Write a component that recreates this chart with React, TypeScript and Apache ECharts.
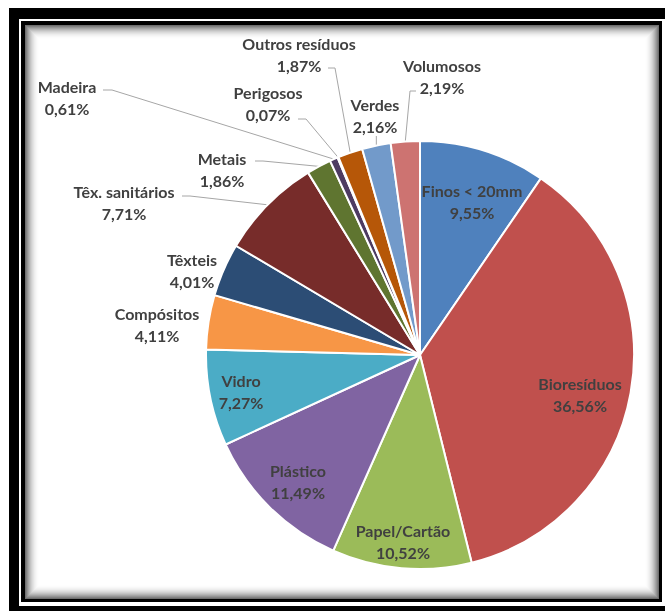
import React, { useEffect, useRef } from "react";
import * as echarts from "echarts";

const categories = [
  "Finos < 20mm",
  "Bioresíduos",
  "Papel/Cartão",
  "Plástico",
  "Vidro",
  "Compósitos",
  "Têxteis",
  "Têx. sanitários",
  "Metais",
  "Madeira",
  "Perigosos",
  "Outros resíduos",
  "Verdes",
  "Volumosos",
];
const values = [9.55, 36.56, 10.52, 11.49, 7.27, 4.11, 4.01, 7.71, 1.86, 0.61, 0.07, 1.87, 2.16, 2.19];
const colors = [
  "#4F81BD",
  "#C0504D",
  "#9BBB59",
  "#8064A2",
  "#4BACC6",
  "#F79646",
  "#2C4D75",
  "#772C2A",
  "#5F7530",
  "#4D3B62",
  "#276A7C",
  "#B65708",
  "#729ACA",
  "#CD7371",
];
// label placement: "inside" / "outside"
const labelKind = ["inside", "inside", "inside", "inside", "inside", "outside", "outside", "outside", "outside", "outside", "outside", "outside", "outside", "outside"];
// label block centres (layout only)
const labelCenters: number[][] = [
  [472, 201],
  [580, 394],
  [403, 541],
  [298, 481],
  [241, 391],
  [157, 324],
  [192, 270],
  [124, 202],
  [222, 169],
  [67, 97],
  [268, 103],
  [299, 54],
  [375, 115],
  [442, 76],
];
// leader-line bend/end points (layout only); null = no leader line
const leaderPts: (number[][] | null)[] = [
  null,
  null,
  null,
  null,
  null,
  null,
  null,
  [[190, 196], [182, 196]],
  [[263, 161], [255, 161]],
  [[112, 90], [103, 90]],
  [[306, 119], [298, 119]],
  [[335, 68], [328, 68]],
  [[-1, 136]],
  [[410, 91], [416, 91]],
];

function frameGraphics() {
  const els: any[] = [
    { type: "rect", z: 0, silent: true, shape: { x: 9, y: 8, width: 700, height: 700 }, style: { fill: "#000" } },
    { type: "rect", z: 0, silent: true, shape: { x: 19, y: 19, width: 700, height: 587 }, style: { fill: "#fff" } },
    { type: "rect", z: 0, silent: true, shape: { x: 21, y: 21, width: 641, height: 581 }, style: { fill: "#000" } },
  ];
  const steps = 14;
  for (let i = 0; i <= steps; i++) {
    const t = 1 - i / steps;
    const g = Math.round(255 - (255 - 110) * t * t);
    els.push({
      type: "rect",
      z: 0,
      silent: true,
      shape: { x: 25 + i, y: 25 + i, width: 634 - 2 * i, height: 574 - 2 * i },
      style: { fill: `rgb(${g},${g},${g})` },
    });
  }
  return els;
}

export default function App() {
  const ref = useRef<HTMLDivElement>(null);
  useEffect(() => {
    if (!ref.current) return;
    const chart = echarts.init(ref.current, undefined, { renderer: "svg" });
    const data = categories.map((name, i) => ({
      name,
      value: values[i],
      itemStyle: { color: colors[i] },
      label: { position: labelKind[i] },
      labelLine: { show: leaderPts[i] !== null },
    }));
    chart.setOption({
      animation: false,
      graphic: frameGraphics(),
      series: [
        {
          type: "pie",
          z: 5,
          center: [420, 355],
          radius: 214,
          startAngle: 90,
          clockwise: true,
          avoidLabelOverlap: false,
          itemStyle: { borderColor: "#fff", borderWidth: 2 },
          label: {
            show: true,
            color: "#404040",
            fontFamily: "Lato",
            fontWeight: "bold",
            fontSize: 16,
            lineHeight: 22,
            align: "center",
            formatter: (p: any) => `${p.name}\n${p.value.toFixed(2).replace(".", ",")}%`,
          },
          labelLine: { show: true, lineStyle: { color: "#A6A6A6", width: 1 }, length: 10, length2: 10 },
          labelLayout: (params: any) => {
            const i = params.dataIndex;
            const c = labelCenters[i];
            const res: any = { x: c[0], y: c[1], align: "center", verticalAlign: "middle" };
            const lp = leaderPts[i];
            if (lp && params.labelLinePoints) {
              const p0 = params.labelLinePoints[0];
              const pts = [[p0[0], p0[1]]];
              lp.forEach((pt) => pts.push([pt[0] < 0 ? p0[0] : pt[0], pt[1]]));
              res.labelLinePoints = pts;
            }
            return res;
          },
          data,
        },
      ],
    });
    return () => chart.dispose();
  }, []);
  return <div ref={ref} style={{ position: "fixed", left: 0, top: 0, width: 665, height: 611 }} />;
}
